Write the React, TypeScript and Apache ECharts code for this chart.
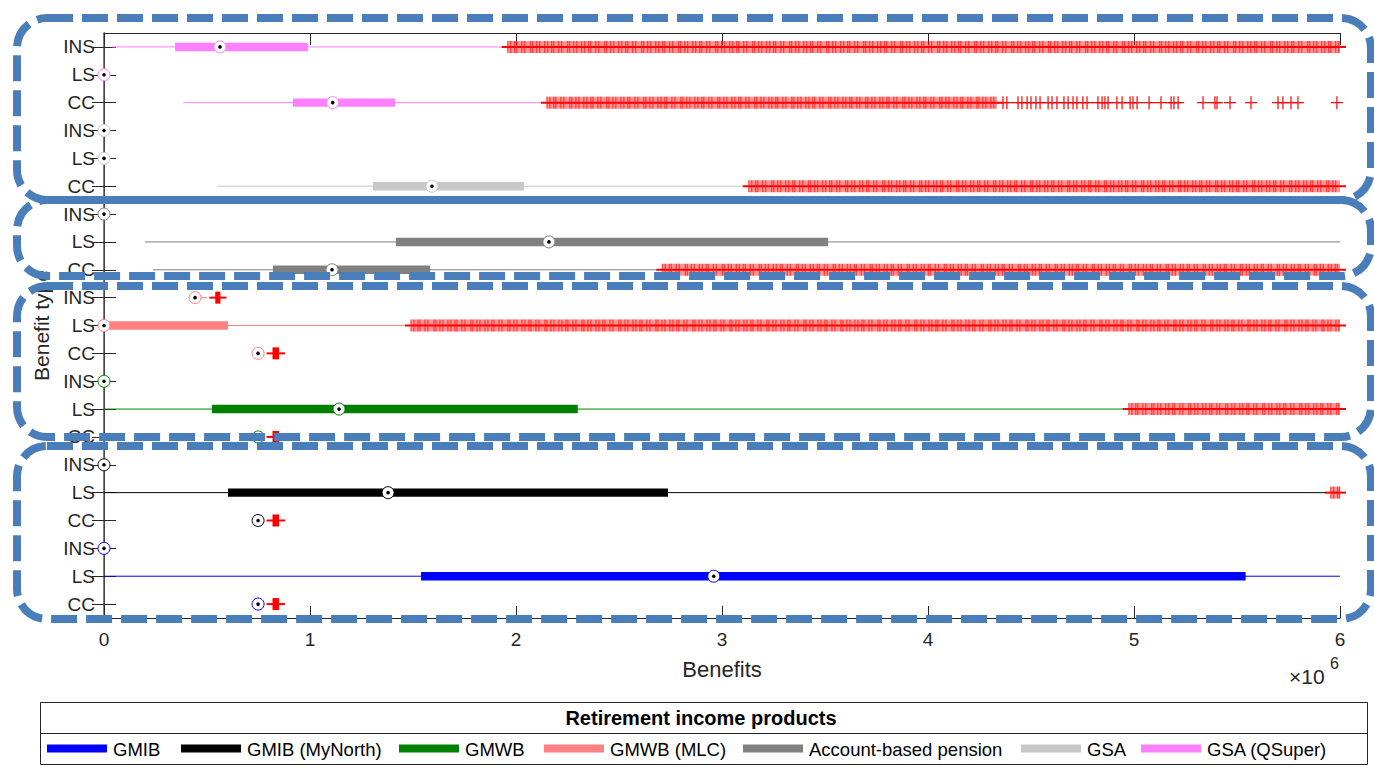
import React, { useEffect, useRef } from 'react';
import * as echarts from 'echarts';

const FONT = "'Liberation Sans', Arial, Helvetica, sans-serif";
const AXIS_COLOR = '#262626';

// 21 rows, top to bottom
const rowLabels = ['INS', 'LS', 'CC', 'INS', 'LS', 'CC', 'INS', 'LS', 'CC', 'INS', 'LS', 'CC', 'INS', 'LS', 'CC', 'INS', 'LS', 'CC', 'INS', 'LS', 'CC'];
// product groups of three rows, top to bottom
const productNames = ['GSA (QSuper)', 'GSA', 'Account-based pension', 'GMWB (MLC)', 'GMWB', 'GMIB (MyNorth)', 'GMIB'];
const productColors = ['#ff80ff', '#c8c8c8', '#808080', '#ff8080', '#008000', '#000000', '#0000ff'];
const legendOrder = ['GMIB', 'GMIB (MyNorth)', 'GMWB', 'GMWB (MLC)', 'Account-based pension', 'GSA', 'GSA (QSuper)'];

// Box statistics in $ millions, per row (top to bottom)
const lowerWhisker = [0.04, 0, 0.385, 0, 0, 0.549, 0, 0.199, 0.238, 0.442, 0, 0.748, 0, 0, 0.748, 0, 0, 0.748, 0, 0, 0.748];
const quartile1 = [0.345, 0, 0.917, 0, 0, 1.306, 0, 1.417, 0.82, 0.442, 0, 0.748, 0, 0.524, 0.748, 0, 0.602, 0.748, 0, 1.539, 0.748];
const medians = [0.563, 0, 1.11, 0, 0, 1.592, 0, 2.16, 1.107, 0.442, 0, 0.748, 0, 1.141, 0.748, 0, 1.379, 0.748, 0, 2.96, 0.748];
const quartile3 = [0.99, 0, 1.413, 0, 0, 2.039, 0, 3.515, 1.583, 0.442, 0.602, 0.748, 0, 2.3, 0.748, 0, 2.738, 0.748, 0, 5.542, 0.748];
const upperWhisker = [1.94, 0, 2.126, 0, 0, 3.12, 0, 6.0, 2.7, 0.5, 1.466, 0.748, 0, 4.95, 0.748, 0, 5.94, 0.748, 0, 6.0, 0.748];

// Dense runs of outliers ($ millions): row index, first and last outlier
const denseOutlierRow = [0, 2, 5, 8, 9, 10, 11, 13, 14, 16, 17, 20];
const denseOutlierFrom = [1.96, 2.15, 3.13, 2.71, 0.54, 1.49, 0.818, 4.975, 0.818, 5.955, 0.818, 0.818];
const denseOutlierTo = [6.0, 4.335, 6.0, 6.0, 0.565, 6.0, 0.85, 6.0, 0.85, 6.0, 0.85, 0.85];

// Sparse individual outliers of the GSA (QSuper) CC row ($ millions)
const sparseOutlierRow = 2;
const sparseOutliers = [4.364, 4.383, 4.437, 4.456, 4.481, 4.5, 4.524, 4.544, 4.583, 4.602, 4.626, 4.66, 4.68, 4.704, 4.723, 4.752, 4.772, 4.825, 4.845, 4.859, 4.874, 4.917, 4.942, 4.981, 4.995, 5.015, 5.073, 5.131, 5.18, 5.194, 5.214, 5.335, 5.393, 5.403, 5.466, 5.568, 5.699, 5.723, 5.762, 5.796, 5.985];

const xTicksMillions = [0, 1, 2, 3, 4, 5, 6];
const SCALE = 1e6;

// Layout constants for the legend box (pixels)
const legendSwatchX = [47, 181, 399, 544, 743, 1021, 1141];

export default function App() {
  const ref = useRef<HTMLDivElement>(null);

  useEffect(() => {
    if (!ref.current) return;
    const chart = echarts.init(ref.current, null, { renderer: 'svg' });

    const boxSeries = productNames.map((name, g) => {
      const color = productColors[g];
      const data = [0, 1, 2].map((k) => {
        const r = g * 3 + k;
        return [r, lowerWhisker[r] * SCALE, quartile1[r] * SCALE, medians[r] * SCALE, quartile3[r] * SCALE, upperWhisker[r] * SCALE];
      });
      return {
        type: 'custom',
        name,
        coordinateSystem: 'cartesian2d',
        encode: { x: [1, 2, 3, 4, 5], y: 0 },
        data,
        z: 3,
        renderItem: (params: any, api: any) => {
          const row = api.value(0);
          const y = api.coord([0, row])[1];
          const px = (v: number) => api.coord([v, row])[0];
          const lo = px(api.value(1));
          const b1 = px(api.value(2));
          const md = px(api.value(3));
          const b3 = px(api.value(4));
          const hi = px(api.value(5));
          const children: any[] = [];
          if (hi - lo > 0.5) {
            children.push({ type: 'line', shape: { x1: lo, y1: y, x2: hi, y2: y }, style: { stroke: color, lineWidth: 1 } });
          }
          if (b3 - b1 > 0.5) {
            children.push({ type: 'rect', shape: { x: b1, y: y - 4.2, width: b3 - b1, height: 8.4 }, style: { fill: color } });
          }
          children.push({ type: 'circle', shape: { cx: md, cy: y, r: 6 }, style: { fill: '#ffffff', stroke: color, lineWidth: 1 } });
          children.push({ type: 'circle', shape: { cx: md, cy: y, r: 1.8 }, style: { fill: '#000000' } });
          return { type: 'group', children };
        },
      };
    });

    const stripeSteps = [3, 4, 2, 5, 3, 6, 2, 4, 3, 5];
    const denseSeries = {
      type: 'custom',
      name: 'Outliers',
      coordinateSystem: 'cartesian2d',
      encode: { x: [1, 2], y: 0 },
      data: denseOutlierRow.map((r, i) => [r, denseOutlierFrom[i] * SCALE, denseOutlierTo[i] * SCALE]),
      z: 4,
      renderItem: (params: any, api: any) => {
        const row = api.value(0);
        const y = api.coord([0, row])[1];
        const xs = api.coord([api.value(1), row])[0];
        const xe = api.coord([api.value(2), row])[0];
        const w = Math.max(xe - xs, 1);
        const narrow = w < 8;
        const children: any[] = [];
        children.push({ type: 'rect', shape: { x: xs, y: y - 6, width: w, height: 12 }, style: { fill: narrow ? '#ff0000' : 'rgba(255,0,0,0.42)' } });
        if (!narrow) {
          let x = xs;
          let k = 0;
          while (x <= xe + 0.01) {
            children.push({ type: 'line', shape: { x1: x, y1: y - 6, x2: x, y2: y + 6 }, style: { stroke: 'rgba(255,0,0,0.75)', lineWidth: 1 } });
            x += stripeSteps[k % stripeSteps.length];
            k++;
          }
        }
        children.push({ type: 'line', shape: { x1: xs - 6, y1: y, x2: xe + 6, y2: y }, style: { stroke: '#ff0000', lineWidth: 2 } });
        return { type: 'group', children };
      },
    };

    const sparseSeries = {
      type: 'custom',
      name: 'Outliers (sparse)',
      coordinateSystem: 'cartesian2d',
      encode: { x: 1, y: 0 },
      data: sparseOutliers.map((v) => [sparseOutlierRow, v * SCALE]),
      z: 4,
      renderItem: (params: any, api: any) => {
        const p = api.coord([api.value(1), api.value(0)]);
        return {
          type: 'group',
          children: [
            { type: 'line', shape: { x1: p[0] - 6, y1: p[1], x2: p[0] + 6, y2: p[1] }, style: { stroke: '#ff0000', lineWidth: 1.2 } },
            { type: 'line', shape: { x1: p[0], y1: p[1] - 6.5, x2: p[0], y2: p[1] + 6.5 }, style: { stroke: '#ff0000', lineWidth: 1.2 } },
          ],
        };
      },
    };

    const dashStyle = { fill: 'none', stroke: '#4a7ebb', lineWidth: 8, lineDash: [26, 9] };
    const dashedRects = [
      [17, 18, 1354, 182],
      [17, 200, 1354, 76],
      [17, 286, 1354, 151],
      [17, 446, 1354, 173],
    ].map((b) => ({
      type: 'rect',
      z: 100,
      shape: { x: b[0], y: b[1], width: b[2], height: b[3], r: 30 },
      style: dashStyle,
    }));

    const legendElements: any[] = [
      { type: 'rect', shape: { x: 40.5, y: 702.5, width: 1327, height: 62 }, style: { fill: '#ffffff', stroke: AXIS_COLOR, lineWidth: 1 }, z: 10 },
      { type: 'line', shape: { x1: 40.5, y1: 733.5, x2: 1367.5, y2: 733.5 }, style: { stroke: AXIS_COLOR, lineWidth: 1 }, z: 11 },
      { type: 'text', x: 701, y: 718, z: 11, style: { text: 'Retirement income products', font: `bold 20px ${FONT}`, fill: '#000000', align: 'center', verticalAlign: 'middle' } },
    ];
    legendOrder.forEach((name, i) => {
      const color = productColors[productNames.indexOf(name)];
      const x = legendSwatchX[i];
      legendElements.push({ type: 'line', z: 11, shape: { x1: x, y1: 748.5, x2: x + 60, y2: 748.5 }, style: { stroke: color, lineWidth: 8 } });
      legendElements.push({ type: 'text', z: 11, x: x + 66, y: 749, style: { text: name, font: `18.5px ${FONT}`, fill: '#000000', align: 'left', verticalAlign: 'middle' } });
    });

    const option: any = {
      animation: false,
      backgroundColor: '#ffffff',
      textStyle: { fontFamily: FONT },
      grid: { left: 104, right: 34, top: 33, bottom: 150, containLabel: false },
      xAxis: [
        {
          type: 'value',
          position: 'bottom',
          min: xTicksMillions[0] * SCALE,
          max: xTicksMillions[xTicksMillions.length - 1] * SCALE,
          interval: SCALE,
          axisLine: { show: true, lineStyle: { color: AXIS_COLOR, width: 1 } },
          axisTick: { show: true, inside: true, length: 12, lineStyle: { color: AXIS_COLOR } },
          axisLabel: { formatter: (v: number) => String(v / SCALE), fontSize: 19, color: AXIS_COLOR, margin: 12, fontFamily: FONT },
          splitLine: { show: false },
          name: 'Benefits',
          nameLocation: 'middle',
          nameGap: 40,
          nameTextStyle: { fontSize: 22, color: AXIS_COLOR, fontFamily: FONT },
        },
        {
          type: 'value',
          position: 'top',
          min: xTicksMillions[0] * SCALE,
          max: xTicksMillions[xTicksMillions.length - 1] * SCALE,
          interval: SCALE,
          axisLine: { show: true, lineStyle: { color: AXIS_COLOR, width: 1 } },
          axisTick: { show: true, inside: true, length: 12, lineStyle: { color: AXIS_COLOR } },
          axisLabel: { show: false },
          splitLine: { show: false },
        },
      ],
      yAxis: [
        {
          type: 'category',
          data: rowLabels,
          inverse: true,
          position: 'left',
          axisLine: { show: true, lineStyle: { color: AXIS_COLOR, width: 1 } },
          axisTick: { show: true, inside: true, alignWithLabel: true, length: 12, lineStyle: { color: AXIS_COLOR } },
          axisLabel: { fontSize: 19, color: AXIS_COLOR, margin: 9, fontFamily: FONT, interval: 0 },
          splitLine: { show: false },
          name: 'Benefit type',
          nameLocation: 'middle',
          nameGap: 51,
          nameTextStyle: { fontSize: 21, color: AXIS_COLOR, fontFamily: FONT },
        },
        {
          type: 'category',
          data: rowLabels,
          inverse: true,
          position: 'right',
          axisLine: { show: true, lineStyle: { color: '#555555', width: 1.5 } },
          axisTick: { show: true, inside: true, alignWithLabel: true, length: 12, lineStyle: { color: AXIS_COLOR } },
          axisLabel: { show: false, interval: 0 },
          splitLine: { show: false },
        },
      ],
      series: [...boxSeries, denseSeries, sparseSeries],
      graphic: [
        ...legendElements,
        {
          type: 'text',
          x: 1289,
          y: 676,
          z: 11,
          style: { text: '×10', font: `21px ${FONT}`, fill: AXIS_COLOR, align: 'left', verticalAlign: 'middle' },
        },
        {
          type: 'text',
          x: 1330,
          y: 663,
          z: 11,
          style: { text: '6', font: `16px ${FONT}`, fill: AXIS_COLOR, align: 'left', verticalAlign: 'middle' },
        },
        ...dashedRects,
      ],
    };

    chart.setOption(option);
    return () => chart.dispose();
  }, []);

  return <div ref={ref} style={{ position: 'fixed', left: 0, top: 0, width: 1374, height: 768, background: '#fff' }} />;
}
